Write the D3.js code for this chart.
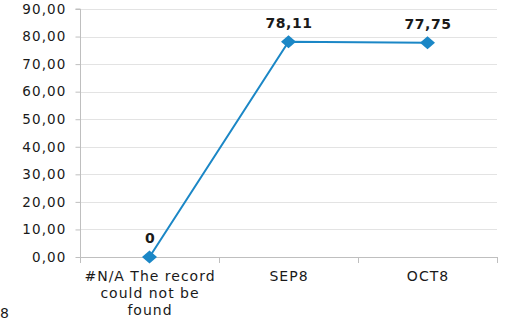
<!DOCTYPE html>
<html>
<head>
<meta charset="utf-8">
<script src="https://cdn.jsdelivr.net/npm/d3@7"></script>
<style>
  html, body { margin: 0; padding: 0; background: #fff; }
  svg { display: block; }
  text { font-family: "DejaVu Sans", Verdana, sans-serif; fill: #1a1a1a; }
</style>
</head>
<body>
<svg id="chart" width="509" height="322"></svg>
<script>
// Chart data
const categories = ["#N/A The record could not be found", "SEP8", "OCT8"];
const categoryLines = [["#N/A The record", "could not be", "found"], ["SEP8"], ["OCT8"]];
const values = [0, 78.11, 77.75];
const valueLabels = ["0", "78,11", "77,75"];
const yTicks = [0, 10, 20, 30, 40, 50, 60, 70, 80, 90];

const svg = d3.select("#chart");
const plotLeft = 80, plotRight = 497, plotTop = 9, plotBottom = 257;

const x = d3.scaleBand().domain(categories).range([plotLeft, plotRight]);
const y = d3.scaleLinear().domain([0, 90]).range([plotBottom, plotTop]);
const fmt = v => d3.format(".2f")(v).replace(".", ",");

// Horizontal gridlines
svg.append("g").selectAll("line")
  .data(yTicks.filter(t => t > 0))
  .join("line")
  .attr("x1", plotLeft).attr("x2", plotRight)
  .attr("y1", d => Math.round(y(d)) + 0.5).attr("y2", d => Math.round(y(d)) + 0.5)
  .attr("stroke", "#e3e3e3").attr("stroke-width", 1);

// Y axis
const yAxis = svg.append("g")
  .attr("transform", `translate(${plotLeft + 0.5},0)`)
  .call(d3.axisLeft(y).tickValues(yTicks).tickFormat(fmt).tickSize(5).tickPadding(9));
yAxis.select(".domain").attr("stroke", "#bfbfbf").attr("d", `M-5,${plotTop}H0V${plotBottom}`);
yAxis.selectAll(".tick line").attr("stroke", "#bfbfbf");
yAxis.selectAll(".tick text")
  .style("font-size", "13.5px")
  .style("letter-spacing", "1.1px")
  .attr("fill", "#1a1a1a");

// X axis
const xAxis = svg.append("g")
  .attr("transform", `translate(0,${plotBottom + 0.5})`)
  .call(d3.axisBottom(x).tickSize(0).tickFormat(""));
xAxis.select(".domain").attr("stroke", "#bfbfbf").attr("d", `M${plotLeft},0H${plotRight}`);
xAxis.selectAll(".tick line").remove();
svg.append("g").selectAll("line")
  .data([plotLeft, ...categories.map(c => x(c) + x.bandwidth())])
  .join("line")
  .attr("x1", d => Math.round(d) + 0.5).attr("x2", d => Math.round(d) + 0.5)
  .attr("y1", plotBottom).attr("y2", plotBottom + 6)
  .attr("stroke", "#bfbfbf");

// Category labels (wrapped)
const catG = svg.append("g");
categories.forEach((c, i) => {
  const mid = x(c) + x.bandwidth() / 2 + 0.5;
  const t = catG.append("text")
    .attr("x", mid)
    .attr("y", 281)
    .attr("text-anchor", "middle")
    .style("font-size", "14px")
    .style("letter-spacing", "1px");
  categoryLines[i].forEach((ln, j) => {
    t.append("tspan").attr("x", mid).attr("dy", j === 0 ? 0 : 17).text(ln);
  });
});

// Series line
const cx = c => x(c) + x.bandwidth() / 2;
svg.append("path")
  .datum(values)
  .attr("fill", "none")
  .attr("stroke", "#1b87c6")
  .attr("stroke-width", 2)
  .attr("d", d3.line().x((d, i) => cx(categories[i])).y(d => y(d)));

// Diamond markers (slightly wider than tall)
const diamond = "M0,-6.5L7.5,0L0,6.5L-7.5,0Z";
svg.append("g").selectAll("path")
  .data(values)
  .join("path")
  .attr("d", diamond)
  .attr("transform", (d, i) => `translate(${cx(categories[i])},${y(d)})`)
  .attr("fill", "#1b87c6");

// Value labels
svg.append("g").selectAll("text")
  .data(values)
  .join("text")
  .attr("x", (d, i) => cx(categories[i]) + 0.5)
  .attr("y", d => y(d) - 14)
  .attr("text-anchor", "middle")
  .style("font-size", "14px")
  .style("font-weight", "bold")
  .style("letter-spacing", "0.5px")
  .text((d, i) => valueLabels[i]);

// Stray footnote digit
svg.append("text").attr("x", 0).attr("y", 318).style("font-size", "14px").text("8");
</script>
</body>
</html>
